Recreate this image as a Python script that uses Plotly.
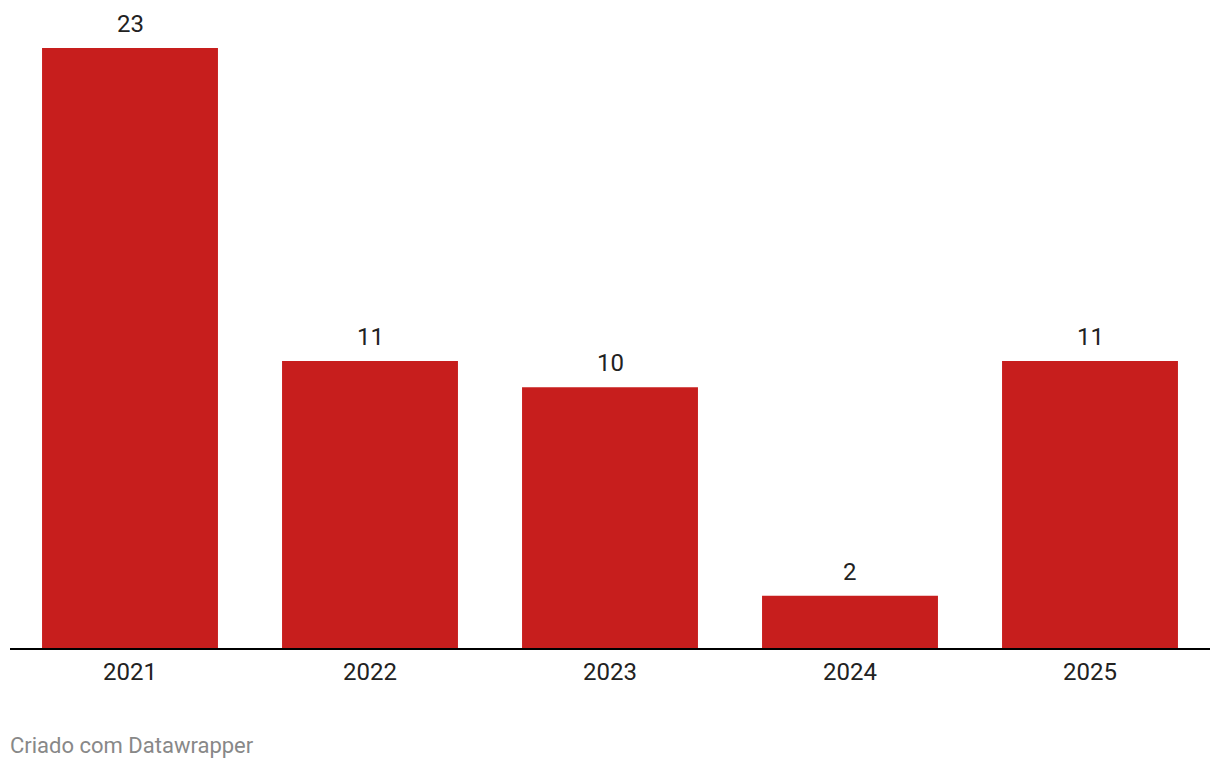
import plotly.graph_objects as go

years = ["2021", "2022", "2023", "2024", "2025"]
values = [23, 11, 10, 2, 11]

fig = go.Figure(go.Bar(
    x=years, y=values,
    marker=dict(color="#c71e1d", line=dict(width=0)),
    cliponaxis=False,
    hoverinfo="skip",
))

annotations = [dict(x=i, y=v, xref="x", yref="y", text=str(v), showarrow=False,
                    xanchor="center", yanchor="middle", yshift=24,
                    font=dict(family="Roboto", size=24, color="#222222"))
               for i, v in enumerate(values)]
annotations.append(dict(text="Criado com Datawrapper", xref="paper", yref="paper",
                        x=0, y=0, xanchor="left", yanchor="middle",
                        xshift=-2, yshift=-97, showarrow=False,
                        font=dict(family="Roboto", size=22, color="#888888")))

fig.update_layout(
    width=1220, height=768,
    margin=dict(l=2, r=18, t=40, b=128, autoexpand=False),
    plot_bgcolor="white", paper_bgcolor="white",
    bargap=0.267,
    showlegend=False,
    font=dict(family="Roboto", size=24, color="#222222"),
    xaxis=dict(type="category", range=[-0.5, len(years) - 0.5],
               showline=True, linecolor="#000000", linewidth=2, ticks="",
               tickfont=dict(family="Roboto", size=24, color="#222222"),
               ticklabelstandoff=1,
               showgrid=False, zeroline=False, fixedrange=True),
    yaxis=dict(range=[0, 23], visible=False, showgrid=False, zeroline=False, fixedrange=True),
    annotations=annotations,
)

fig.write_html("out.html")
